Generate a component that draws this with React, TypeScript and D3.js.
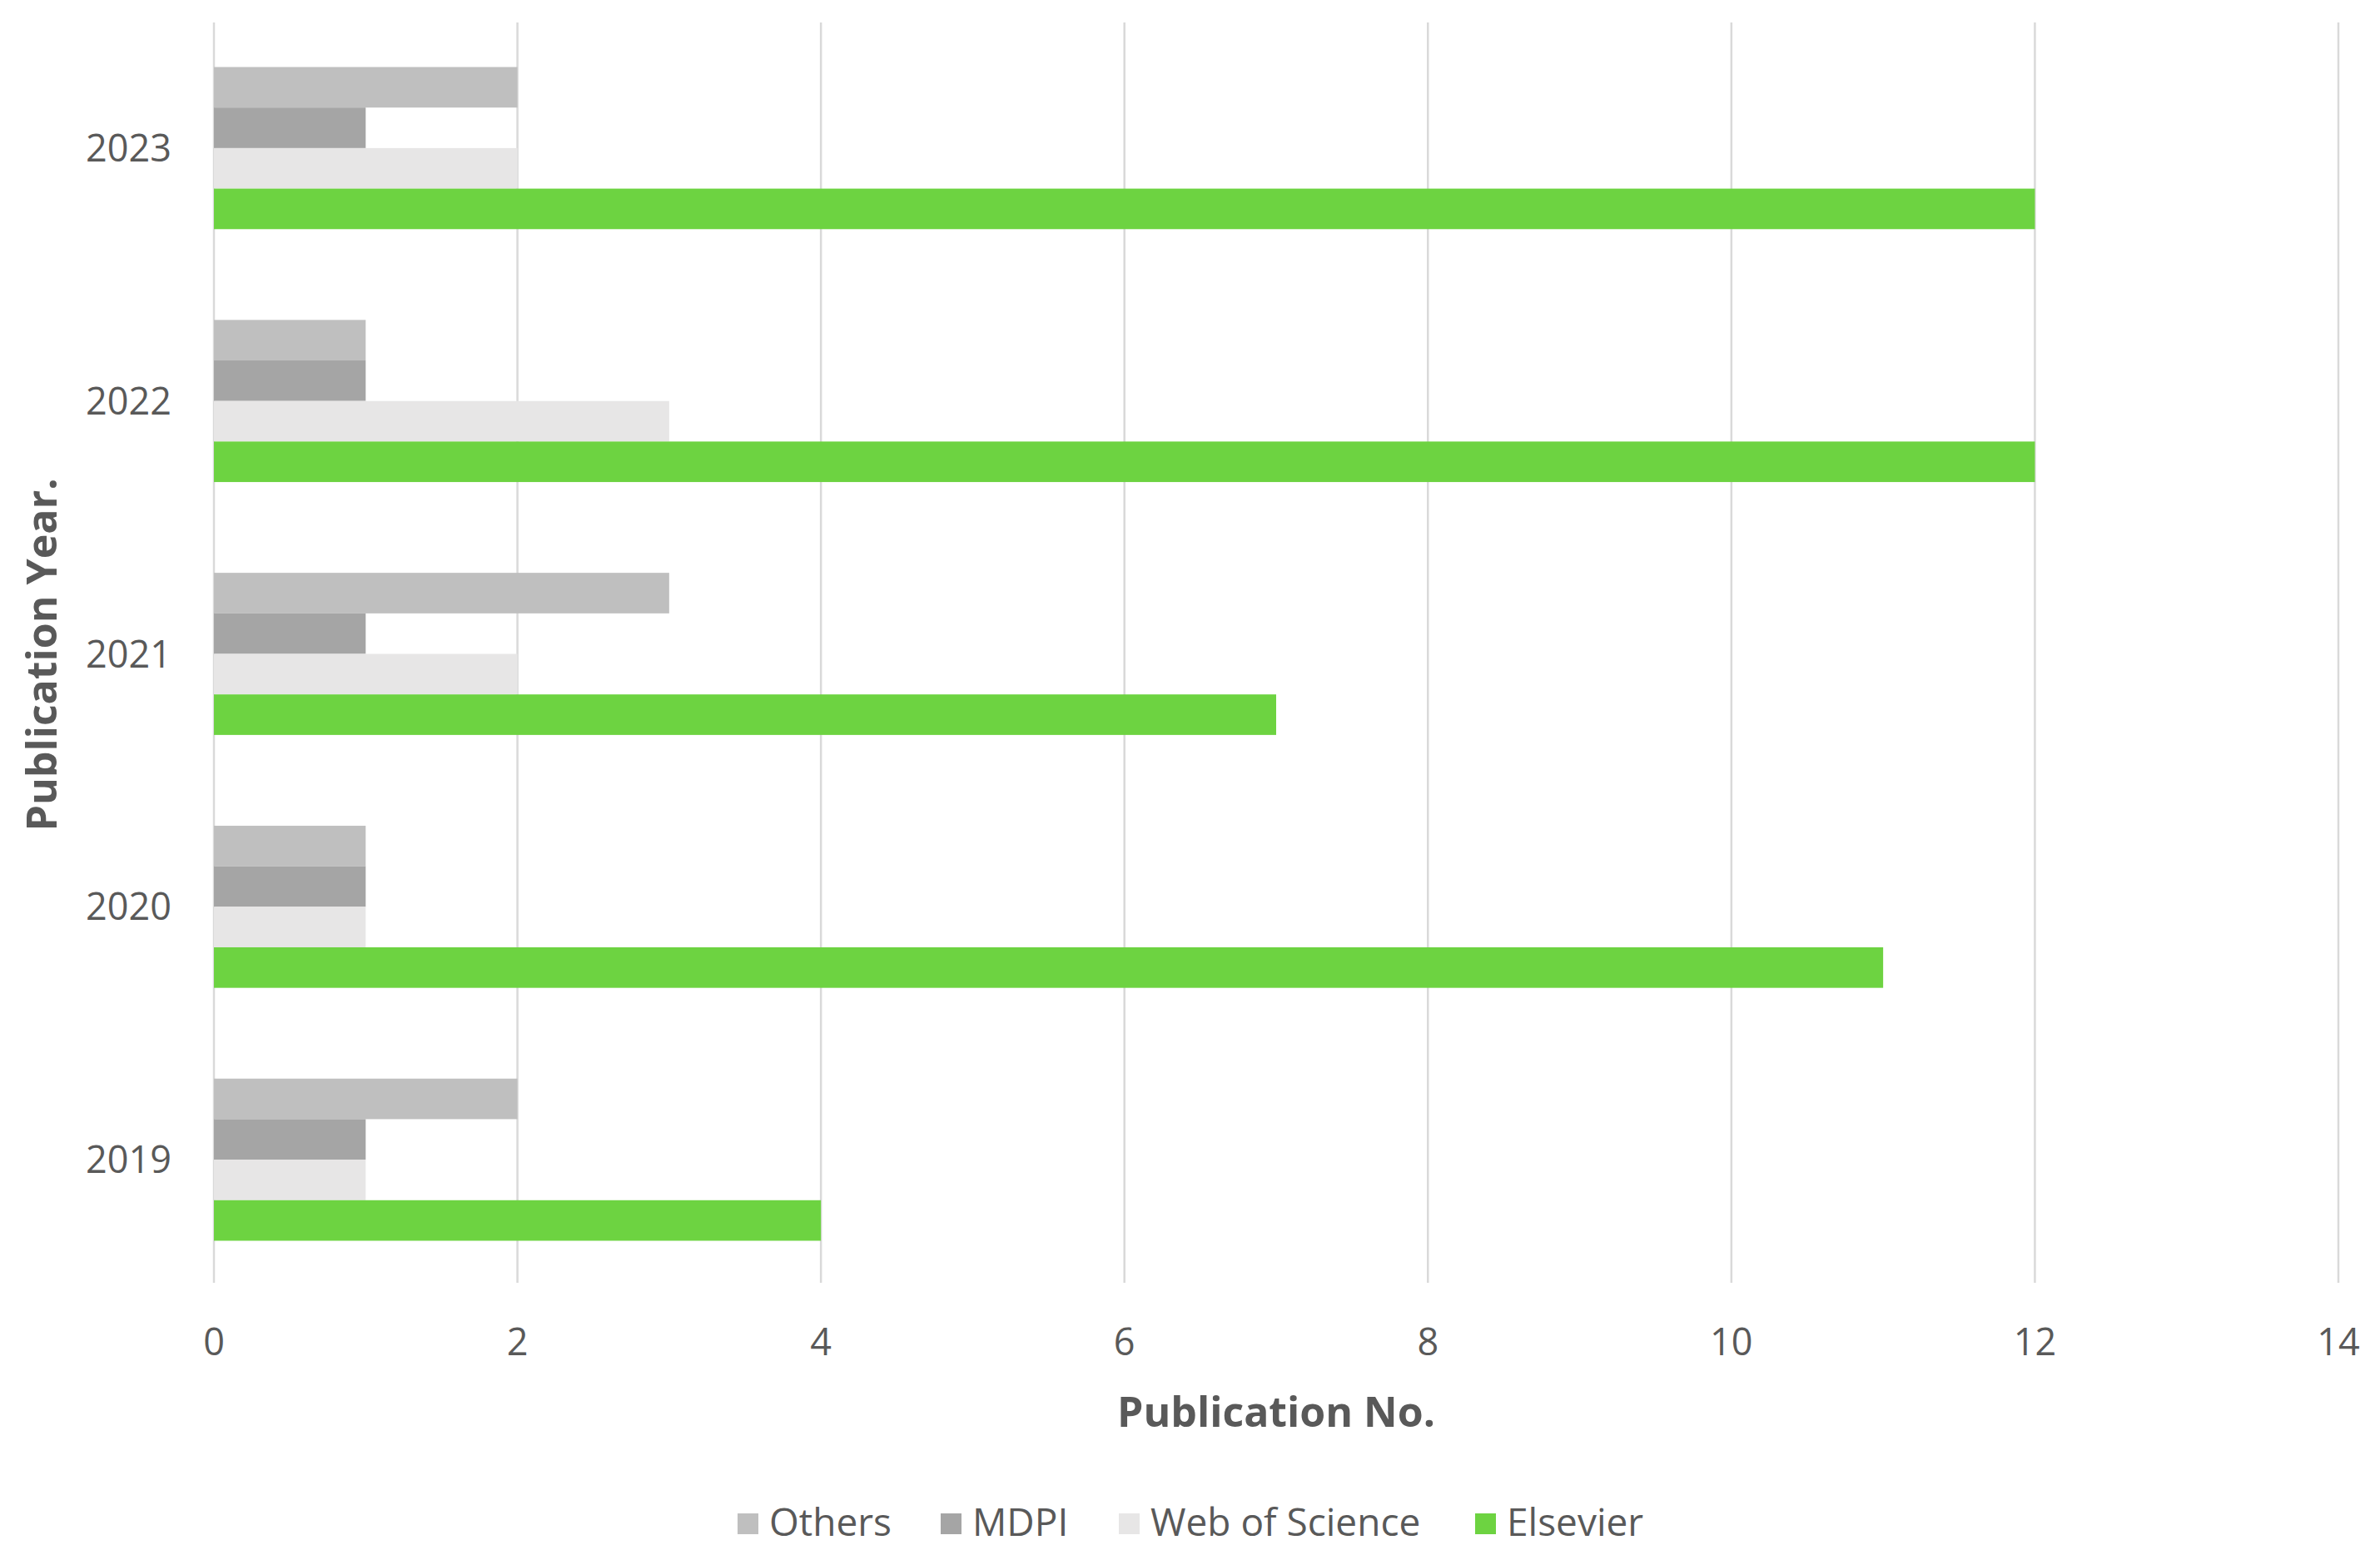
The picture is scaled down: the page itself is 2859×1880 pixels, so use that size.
import React from "react";
import * as d3 from "d3";

const years = ["2023", "2022", "2021", "2020", "2019"];
const seriesNames = ["Others", "MDPI", "Web of Science", "Elsevier"];
const others = [2, 1, 3, 1, 2];
const mdpi = [1, 1, 1, 1, 1];
const wos = [2, 3, 2, 1, 1];
const elsevier = [12, 12, 7, 11, 4];
const xTicks = [0, 2, 4, 6, 8, 10, 12, 14];
const colors = ["#bfbfbf", "#a5a5a5", "#e7e6e6", "#6dd341"];

const W = 2859;
const H = 1880;
const FONT = "'Open Sans', sans-serif";

export default function App() {
  const seriesValues = [others, mdpi, wos, elsevier];
  const x = d3.scaleLinear().domain([0, 14]).range([257, 2809]);
  const y0 = d3.scaleBand<string>().domain(years).range([26, 1545]).padding(0);
  const y1 = d3
    .scaleBand<string>()
    .domain(seriesNames)
    .range([0, y0.step()])
    .paddingInner(0)
    .paddingOuter(1.12);

  const legendX = [886, 1130, 1344, 1772];

  return (
    <svg
      width={W}
      height={H}
      style={{ position: "absolute", left: 0, top: 0, background: "#fff" }}
      fontFamily={FONT}
    >
      <rect x={0} y={0} width={W} height={H} fill="#fff" />
      {xTicks.map((t) => (
        <line
          key={"g" + t}
          x1={x(t)}
          x2={x(t)}
          y1={27}
          y2={1541}
          stroke="#d9d9d9"
          strokeWidth={2.5}
        />
      ))}
      {years.map((yr, i) => (
        <g key={yr} transform={`translate(0,${y0(yr)})`}>
          {seriesNames.map((s, j) => (
            <rect
              key={s}
              x={x(0)}
              y={y1(s)}
              width={x(seriesValues[j][i]) - x(0)}
              height={y1.bandwidth()}
              fill={colors[j]}
            />
          ))}
          <text
            x={206}
            y={y0.bandwidth() / 2}
            dy="0.36em"
            textAnchor="end"
            fontSize={45}
            fill="#595959"
          >
            {yr}
          </text>
        </g>
      ))}
      {xTicks.map((t) => (
        <text
          key={"t" + t}
          x={x(t)}
          y={1628}
          textAnchor="middle"
          fontSize={45}
          fill="#595959"
        >
          {t}
        </text>
      ))}
      <text
        x={(x(0) + x(14)) / 2}
        y={1714}
        textAnchor="middle"
        fontSize={50}
        fontWeight="bold"
        fill="#595959"
      >
        Publication No.
      </text>
      <text
        transform={`translate(68,${(27 + 1546) / 2}) rotate(-90)`}
        textAnchor="middle"
        fontSize={50}
        fontWeight="bold"
        fill="#595959"
      >
        Publication Year.
      </text>
      {seriesNames.map((s, j) => (
        <g key={"l" + s}>
          <rect x={legendX[j]} y={1818} width={25} height={25} fill={colors[j]} />
          <text x={legendX[j] + 38} y={1845} fontSize={46} fill="#595959">
            {s}
          </text>
        </g>
      ))}
    </svg>
  );
}
